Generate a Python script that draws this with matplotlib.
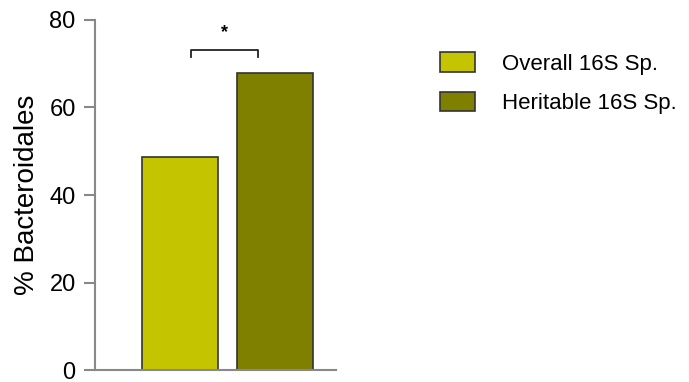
import matplotlib.pyplot as plt
from matplotlib.patches import Patch

plt.rcParams['font.family'] = ['Liberation Sans', 'DejaVu Sans']

# data
groups = ['Overall 16S Sp.', 'Heritable 16S Sp.']
values = [48.7, 67.9]
colors = ['#c4c400', '#808000']
yticks = [0, 20, 40, 60, 80]

fig = plt.figure(figsize=(6.89, 3.82), dpi=100)
ax = fig.add_axes([0.138, 0.031, 0.350, 0.917])

x = range(len(values))
ax.bar(x, values, width=0.8, color=colors, edgecolor='#333333', linewidth=1.2)

ax.set_xlim(-0.9, 1.65)
ax.set_ylim(0, 80)
ax.set_yticks(yticks)
ax.set_xticks([])
ax.set_ylabel('% Bacteroidales', fontsize=20, labelpad=7)
ax.tick_params(axis='y', labelsize=17, length=8, width=1.5, color='#888888', pad=6)

for s in ['top', 'right']:
    ax.spines[s].set_visible(False)
for s in ['left', 'bottom']:
    ax.spines[s].set_color('#888888')
    ax.spines[s].set_linewidth(1.5)

# significance bracket
ax.plot([0.116, 0.116, 0.825, 0.825], [71.5, 73.2, 73.2, 71.5], color='#222222', lw=1.3)
ax.text(0.47, 77.1, '*', ha='center', va='center', fontsize=13, fontweight='bold')

handles = [Patch(facecolor=c, edgecolor='#333333', linewidth=1.2) for c in colors]
fig.legend(handles, groups, loc='upper left', bbox_to_anchor=(0.6226, 0.892),
           frameon=False, fontsize=16, borderpad=0, handlelength=1.58,
           handleheight=0.96, handletextpad=1.2, labelspacing=0.78)

fig.savefig('out.png', dpi=100)
